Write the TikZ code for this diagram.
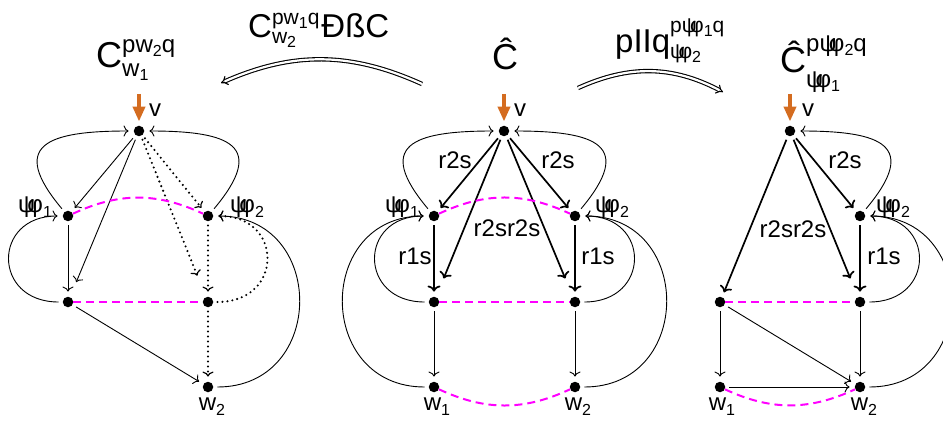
\documentclass[tikz,border=0pt]{standalone}
\usepackage{fontspec}
\setmainfont{Liberation Sans}
\usetikzlibrary{arrows.meta}
\definecolor{vorange}{RGB}{212,108,32}
\definecolor{pmag}{RGB}{255,0,255}
\newcommand\pp{ψ\kern-0.32emφ}
\newcommand\lsub[1]{\raisebox{-0.22em}{\fontsize{16}{16}\selectfont #1}}
\newcommand\ssub[1]{\raisebox{-0.15em}{\fontsize{16}{16}\selectfont #1}}
\newcommand\tsz[1]{\hbox{\fontsize{24}{24}\selectfont #1}}
\newcommand\lsz[1]{\hbox{\fontsize{21}{21}\selectfont #1}}
\newcommand\supsub[4]{%
  \setbox0=\hbox{\raisebox{#1}{#2}}%
  \setbox2=\hbox{\raisebox{-#3}{#4}}%
  \ifdim\wd0>\wd2 \rlap{\box2}\box0 \else \rlap{\box0}\box2 \fi}
\begin{document}
\begin{tikzpicture}[x=1pt,y=1pt,
  dot/.style={circle,fill=black,inner sep=0pt,minimum size=10.5pt},
  lab/.style={font=\fontsize{24}{28}\selectfont, inner sep=0pt},
  ttl/.style={font=\fontsize{36}{40}\selectfont, inner sep=0pt, anchor=base west},
  arr/.style={-{To[length=5pt,width=11pt]}, line width=0.9pt, shorten <=4pt, shorten >=5pt},
  barr/.style={-{To[length=6pt,width=13pt]}, line width=1.7pt, shorten <=4pt, shorten >=5pt},
  dotarr/.style={-{To[length=5pt,width=11pt,line width=1.2pt]}, line width=2.3pt, dash pattern=on 0pt off 5pt, line cap=round, shorten <=4pt, shorten >=5pt},
  mag/.style={pmag, line width=2pt, dash pattern=on 8pt off 5pt},
  vin/.style={vorange, line width=4pt, -{Triangle[length=15pt,width=12pt]}, shorten >=4pt},
  dbl/.style={double, double distance=2.2pt, line width=1.1pt, -{Implies}},
]
\useasboundingbox (0,0) rectangle (943,421);
% ---------- nodes
\node[dot] (Lv) at (139,290) {};
\node[dot] (La) at (68,205) {};
\node[dot] (Lb) at (208,205) {};
\node[dot] (Lc) at (68,119) {};
\node[dot] (Ld) at (208,119) {};
\node[dot] (Lw) at (208,34) {};
\node[dot] (Mv) at (504,290) {};
\node[dot] (Ma) at (434,205) {};
\node[dot] (Mb) at (575,205) {};
\node[dot] (Mc) at (434,119) {};
\node[dot] (Md) at (575,119) {};
\node[dot] (Mw1) at (434,34) {};
\node[dot] (Mw2) at (575,34) {};
\node[dot] (Rv) at (790,290) {};
\node[dot] (Rb) at (860,205) {};
\node[dot] (Rc) at (720,119) {};
\node[dot] (Rd) at (860,119) {};
\node[dot] (Rw1) at (720,34) {};
\node[dot] (Rw2) at (860,34) {};
% ---------- left graph
\draw[arr] (La) to[out=130,in=180,looseness=2.1] (Lv);
\draw[arr] (Lb) to[out=50,in=0,looseness=2.1] (Lv);
\draw[arr] (Lv) -- (La);
\draw[arr, shorten >=16pt] (Lv) -- (Lc);
\draw[arr] (La) -- (Lc);
\draw[arr] (Lc) to[out=180,in=180,looseness=2.1] (La);
\draw[arr] (Lc) -- (Lw);
\draw[arr] (Lw) to[out=0,in=0,looseness=1.7] (Lb);
\draw[dotarr] (Lv) -- (Lb);
\draw[dotarr, shorten >=23pt] (Lv) -- (Ld);
\draw[dotarr] (Lb) -- (Ld);
\draw[dotarr] (Ld) to[out=0,in=0,looseness=2.1] (Lb);
\draw[dotarr] (Ld) -- (Lw);
\draw[mag] (La) to[bend left=25] (Lb);
\draw[mag] (Lc) -- (Ld);
% ---------- middle graph
\draw[arr] (Ma) to[out=130,in=180,looseness=2.1] (Mv);
\draw[arr] (Mb) to[out=50,in=0,looseness=2.1] (Mv);
\draw[barr] (Mv) -- (Ma);
\draw[barr] (Mv) -- (Mb);
\draw[barr, shorten >=20pt] (Mv) -- (Mc);
\draw[barr, shorten >=20pt] (Mv) -- (Md);
\draw[barr] (Ma) -- (Mc);
\draw[barr] (Mb) -- (Md);
\draw[arr] (Mc) to[out=180,in=180,looseness=2.1] (Ma);
\draw[arr] (Md) to[out=0,in=0,looseness=2.1] (Mb);
\draw[arr] (Mc) -- (Mw1);
\draw[arr] (Md) -- (Mw2);
\draw[arr] (Mw1) to[out=180,in=180,looseness=1.7] (Ma);
\draw[arr] (Mw2) to[out=0,in=0,looseness=1.7] (Mb);
\draw[mag] (Ma) to[bend left=25] (Mb);
\draw[mag] (Mc) -- (Md);
\draw[mag] (Mw1) to[bend right=25] (Mw2);
% ---------- right graph
\draw[arr] (Rb) to[out=50,in=0,looseness=2.1] (Rv);
\draw[barr] (Rv) -- (Rb);
\draw[barr] (Rv) -- (Rc);
\draw[barr, shorten >=20pt] (Rv) -- (Rd);
\draw[barr] (Rb) -- (Rd);
\draw[arr] (Rd) to[out=0,in=0,looseness=2.1] (Rb);
\draw[arr] (Rw2) to[out=0,in=0,looseness=1.7] (Rb);
\draw[arr] (Rc) -- (Rw1);
\draw[arr] (Rc) -- (Rw2);
\draw[arr] (Rd) -- (Rw2);
\draw[arr] (Rw1) -- (Rw2);
\draw[mag] (Rc) -- (Rd);
\draw[mag] (Rw1) to[bend right=25] (Rw2);
% ---------- orange entry arrows and v labels
\coordinate (Lvo) at (139,327);
\coordinate (Mvo) at (504,327);
\coordinate (Rvo) at (790,327);
\draw[vin] (Lvo) -- (Lv);
\draw[vin] (Mvo) -- (Mv);
\draw[vin] (Rvo) -- (Rv);
\node[lab] (Lvl) at (155,311) {v};
\node[lab] (Mvl) at (520,311) {v};
\node[lab] (Rvl) at (808,311) {v};
% ---------- vertex labels
\node[lab] (Lal) at (35,214) {\pp\lsub{1}};
\node[lab] (Lbl) at (247,214) {\pp\lsub{2}};
\node[lab] (Lwl) at (212,14) {w\lsub{2}};
\node[lab] (Mal) at (402,214) {\pp\lsub{1}};
\node[lab] (Mbl) at (612,214) {\pp\lsub{2}};
\node[lab] (Mw1l) at (437,14) {w\lsub{1}};
\node[lab] (Mw2l) at (578,14) {w\lsub{2}};
\node[lab] (Rbl) at (893,214) {\pp\lsub{2}};
\node[lab] (Rw1l) at (722,14) {w\lsub{1}};
\node[lab] (Rw2l) at (864,14) {w\lsub{2}};
% ---------- edge labels
\node[lab] (Me1) at (455,261) {r2s};
\node[lab] (Me2) at (558,261) {r2s};
\node[lab] (Me3) at (507,193) {r2sr2s};
\node[lab] (Me4) at (415,165) {r1s};
\node[lab] (Me5) at (598,165) {r1s};
\node[lab] (Re1) at (845,261) {r2s};
\node[lab] (Re2) at (793,192) {r2sr2s};
\node[lab] (Re3) at (884,165) {r1s};
% ---------- titles
\node[ttl] (T1) at (96,353) {C\supsub{15pt}{\tsz{pw\ssub{2}q}}{9pt}{\tsz{w\ssub{1}}}};
\node[ttl, font=\fontsize{33}{36}\selectfont] (T2) at (248,383) {C\supsub{13pt}{\lsz{pw\ssub{1}q}}{6pt}{\lsz{w\ssub{2}}}\kern2pt ÐßC};
\node[ttl, anchor=base] (T3) at (505,351) {Ĉ};
\node[ttl, font=\fontsize{33}{36}\selectfont] (T4) at (615,368) {pIIq\supsub{20pt}{\lsz{p\pp\ssub{1}q}}{6pt}{\lsz{\pp\ssub{2}}}};
\node[ttl] (T5) at (780,348) {Ĉ\supsub{21pt}{\tsz{p\pp\ssub{2}q}}{15pt}{\tsz{\pp\ssub{1}}}};
% ---------- double arrows
\coordinate (A1s) at (422,337);
\coordinate (A1e) at (221,338);
\draw[dbl] (A1s) to[bend right=24] (A1e);
\coordinate (A2s) at (578,333);
\coordinate (A2e) at (723,329);
\draw[dbl] (A2s) to[bend left=26] (A2e);
\end{tikzpicture}
\end{document}
